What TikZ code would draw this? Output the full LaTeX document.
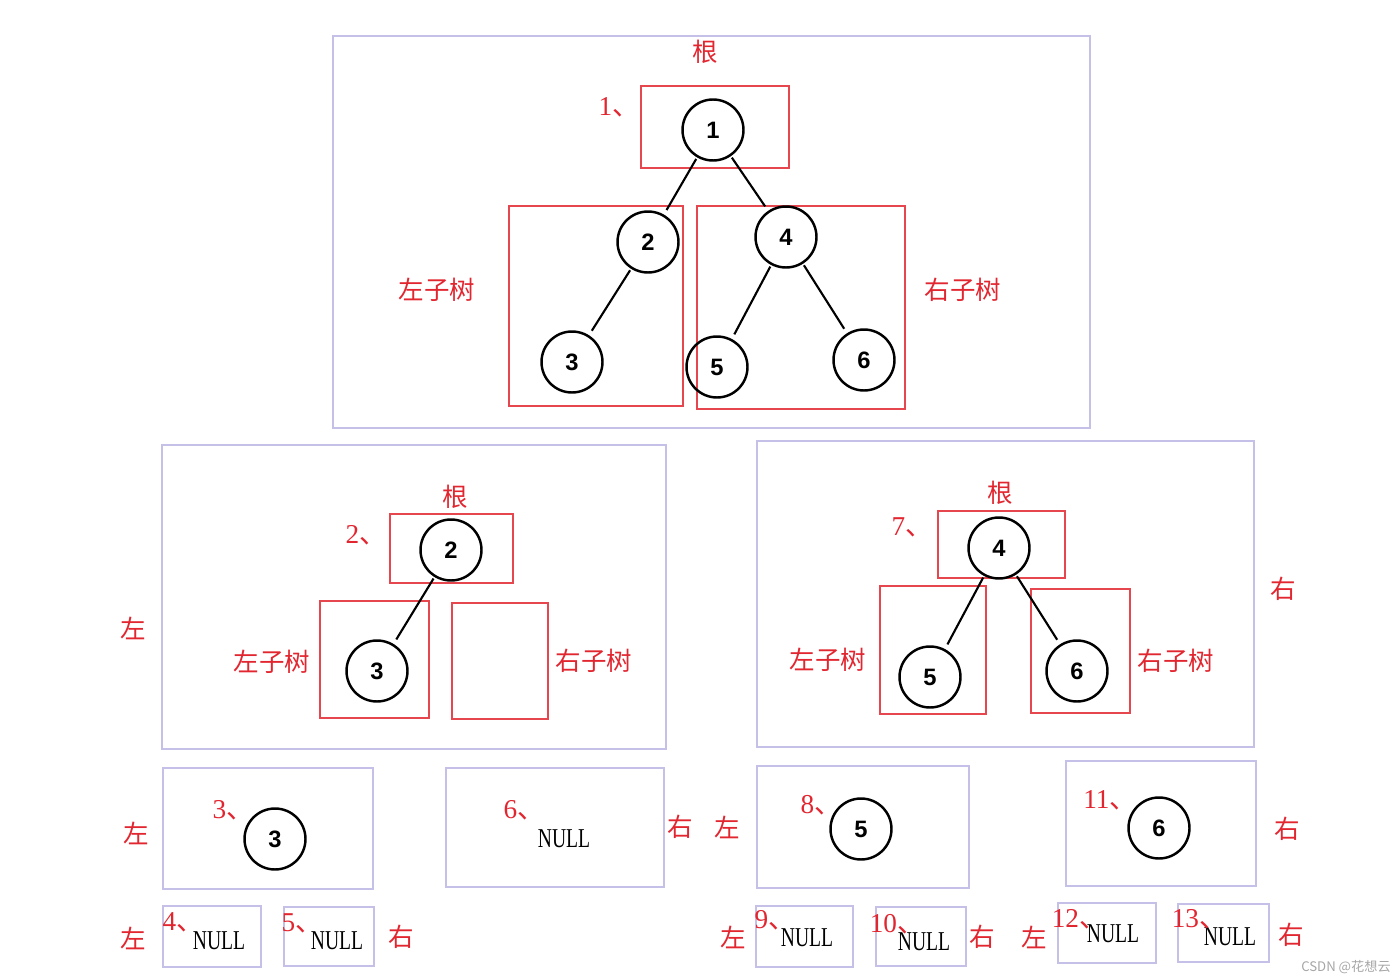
\documentclass[tikz,border=0pt]{standalone}
\usepackage{fontspec}
\setmainfont{Liberation Serif}
\setsansfont{Liberation Sans}
\newfontfamily\cjk{Noto Sans CJK SC}
\newfontfamily\nullserif[FakeStretch=0.72]{Liberation Serif}
\usetikzlibrary{positioning}
\definecolor{treered}{RGB}{226,38,48}
\definecolor{boxpurple}{RGB}{196,192,232}
\newcommand{\idx}[1]{#1{\cjk 、}}

\begin{document}
\begin{tikzpicture}[
    x=0.02cm, y=-0.02cm,
    frame/.style={draw=boxpurple, line width=1.4pt},
    part/.style={draw=treered!85, line width=0.6pt},
    vtx/.style={circle, draw, line width=1.4pt, minimum size=1.22cm, inner sep=0pt, font=\sffamily\bfseries\fontsize{13.5}{14}\selectfont},
    lbl/.style={text=treered, font=\fontsize{14.5}{16}\selectfont\cjk},
    num/.style={text=treered, font=\fontsize{15.5}{16}\selectfont},
    nulltxt/.style={font=\fontsize{15.5}{16}\selectfont\nullserif},
    edge/.style={line width=1.2pt, shorten <=1pt, shorten >=3pt}
]
\useasboundingbox (0,0) rectangle (1400,980);

% whole tree
\draw[frame] (333,36) rectangle (1090,428);
\draw[part] (641,86) rectangle (789,168);
\draw[part] (509,206) rectangle (683,406);
\draw[part] (697,206) rectangle (905,409);
\node[lbl] (root1) at (705,52) {根};
\node[num] (no1) at (619,107) {\idx{1}};
\node[vtx] (a1) at (713,130) {1};
\node[vtx] (a2) at (648,242) {2};
\node[vtx] (a4) at (786,237) {4};
\node[vtx] (a3) at (572,362) {3};
\node[vtx] (a5) at (717,367) {5};
\node[vtx] (a6) at (864,360) {6};
\draw[edge] (a1) -- (a2);
\draw[edge] (a1) -- (a4);
\draw[edge] (a2) -- (a3);
\draw[edge] (a4) -- (a5);
\draw[edge] (a4) -- (a6);
\node[lbl] (ltree1) at (437,290) {左子树};
\node[lbl] (rtree1) at (963,290) {右子树};

% left subtree
\draw[frame] (162,445) rectangle (666,749);
\draw[part] (390,514) rectangle (513,583);
\draw[part] (320,601) rectangle (429,718);
\draw[part] (452,603) rectangle (548,719);
\node[lbl] (root2) at (455,497) {根};
\node[num] (no2) at (366,535) {\idx{2}};
\node[vtx] (b2) at (451,550) {2};
\node[vtx] (b3) at (377,671) {3};
\draw[edge] (b2) -- (b3);
\node[lbl] (ltree2) at (272,662) {左子树};
\node[lbl] (rtree2) at (594,661) {右子树};
\node[lbl] (left2) at (133,628) {左};

% right subtree
\draw[frame] (757,441) rectangle (1254,747);
\draw[part] (938,511) rectangle (1065,578);
\draw[part] (880,586) rectangle (986,714);
\draw[part] (1031,589) rectangle (1130,713);
\node[lbl] (root7) at (1000,493) {根};
\node[num] (no7) at (912,527) {\idx{7}};
\node[vtx] (c4) at (999,548) {4};
\node[vtx] (c5) at (930,677) {5};
\node[vtx] (c6) at (1077,671) {6};
\draw[edge] (c4) -- (c5);
\draw[edge] (c4) -- (c6);
\node[lbl] (ltree7) at (828,660) {左子树};
\node[lbl] (rtree7) at (1176,661) {右子树};
\node[lbl] (right7) at (1283,589) {右};

% third level
\draw[frame] (163,768) rectangle (373,889);
\node[lbl] (left3) at (136,833) {左};
\node[num] (no3) at (233,810) {\idx{3}};
\node[vtx] (d3) at (275,839) {3};

\draw[frame] (446,768) rectangle (664,887);
\node[num] (no6) at (524,810) {\idx{6}};
\node[nulltxt] (null6) at (564,839) {NULL};
\node[lbl] (right6) at (680,827) {右};

\node[lbl] (left8) at (727,827) {左};
\draw[frame] (757,766) rectangle (969,888);
\node[num] (no8) at (821,805) {\idx{8}};
\node[vtx] (d5) at (861,829) {5};

\draw[frame] (1066,761) rectangle (1256,886);
\node[num] (no11) at (1110,800) {\idx{11}};
\node[vtx] (d6) at (1159,828) {6};
\node[lbl] (right11) at (1287,829) {右};

% leaves
\node[lbl] (left4) at (133,938) {左};
\draw[frame] (163,906) rectangle (261,967);
\node[nulltxt] (null4) at (219,941) {NULL};
\node[num] (no4) at (183,922) {\idx{4}};
\draw[frame] (284,907) rectangle (374,966);
\node[nulltxt] (null5) at (337,941) {NULL};
\node[num] (no5) at (302,923) {\idx{5}};
\node[lbl] (right5) at (401,937) {右};

\node[lbl] (left9) at (733,937) {左};
\draw[frame] (756,906) rectangle (853,967);
\node[nulltxt] (null9) at (807,938) {NULL};
\node[num] (no9) at (775,920) {\idx{9}};
\draw[frame] (876,907) rectangle (966,966);
\node[nulltxt] (null10) at (924,942) {NULL};
\node[num] (no10) at (897,924) {\idx{10}};
\node[lbl] (right10) at (982,937) {右};

\node[lbl] (left12) at (1034,937) {左};
\draw[frame] (1058,903) rectangle (1156,963);
\node[nulltxt] (null12) at (1113,934) {NULL};
\node[num] (no12) at (1079,919) {\idx{12}};
\draw[frame] (1178,904) rectangle (1269,962);
\node[nulltxt] (null13) at (1230,937) {NULL};
\node[num] (no13) at (1199,919) {\idx{13}};
\node[lbl] (right13) at (1291,935) {右};

\node[text=gray!70, font=\fontsize{7.5}{9}\selectfont\cjk] (mark) at (1346,967) {CSDN @花想云};
\end{tikzpicture}
\end{document}
